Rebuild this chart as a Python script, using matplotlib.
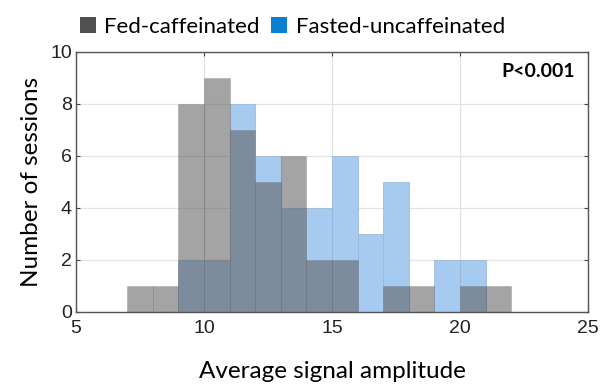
import numpy as np
import matplotlib
matplotlib.use("Agg")
import matplotlib.pyplot as plt
from matplotlib.patches import Patch

# histogram bins (width 1) and counts
bin_edges = np.arange(7, 23)
fed_counts = [1, 1, 8, 9, 7, 5, 6, 2, 2, 0, 1, 1, 0, 1, 1]
fasted_counts = [0, 0, 2, 2, 8, 6, 4, 4, 6, 3, 5, 0, 2, 2, 0]
labels = ["Fed-caffeinated", "Fasted-uncaffeinated"]

label_font = "Lato"
tick_font = "Liberation Sans"

fig = plt.figure(figsize=(6.14, 3.85), dpi=100)
ax = fig.add_axes([76/614, 1-312/385, 512/614, 260/385])

lefts = bin_edges[:-1]
# fasted drawn first, fed on top with transparency (overlap comes out slate)
ax.bar(lefts, fasted_counts, width=1, align="edge", color=(166/255, 202/255, 240/255),
       edgecolor=(0.6, 0.7, 0.82), linewidth=0.5, zorder=2)
ax.bar(lefts, fed_counts, width=1, align="edge", color=(90/255, 90/255, 90/255, 0.55),
       edgecolor=(0.4, 0.4, 0.4, 0.35), linewidth=0.5, zorder=3)

ax.set_xlim(5, 25)
ax.set_ylim(0, 10)
ax.set_xticks(np.arange(5, 26, 5))
ax.set_yticks(np.arange(0, 11, 2))
ax.grid(True, color="#e3e3e3", linewidth=0.9, zorder=0)
ax.set_axisbelow(True)
ax.tick_params(direction="in", top=True, right=True, length=3, width=0.8,
               color="#444444", labelsize=14, pad=3)
ax.tick_params(axis="x", pad=6)
for lab in ax.get_xticklabels() + ax.get_yticklabels():
    lab.set_fontfamily(tick_font)
    lab.set_color("#222222")
for sp in ax.spines.values():
    sp.set_color("#555555")
    sp.set_linewidth(1.0)

ax.set_xlabel("Average signal amplitude", fontfamily=label_font, fontsize=17.5, labelpad=17)
ax.set_ylabel("Number of sessions", fontfamily=label_font, fontsize=17.5, labelpad=6)

ax.text(0.975, 0.925, "P<0.001", transform=ax.transAxes, ha="right", va="center",
        fontfamily=label_font, fontweight="bold", fontsize=14)

handles = [Patch(facecolor="#505050", edgecolor="none"),
           Patch(facecolor="#0a7fcf", edgecolor="none")]
fig.legend(handles, labels, loc="center left", bbox_to_anchor=(80/614, 1-27/385),
           ncol=2, frameon=False, prop={"family": label_font, "size": 16},
           handlelength=0.7, handleheight=0.7, handletextpad=0.4, columnspacing=0.5,
           borderaxespad=0, borderpad=0)

fig.savefig("out.png", dpi=100)
